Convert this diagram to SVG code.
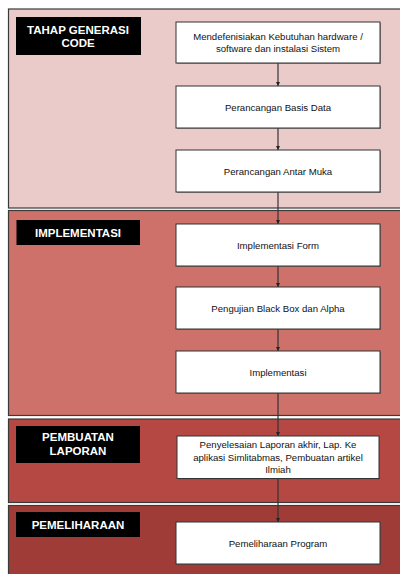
<svg xmlns="http://www.w3.org/2000/svg" width="400" height="574" viewBox="0 0 400 574">
<defs>
<style>
.panel{stroke:#3a3a3a;stroke-width:1.2}
.lab{fill:#000}
.labt{font-family:"Liberation Sans",Arial,sans-serif;font-weight:bold;font-size:11.5px;fill:#fff;text-anchor:middle}
.shadow{fill:#555;opacity:0.55}
.box{fill:#fff;stroke:#333;stroke-width:1}
.t{font-family:"Liberation Sans",Arial,sans-serif;font-size:9.6px;fill:#111;text-anchor:middle}
.con{stroke:#333;stroke-width:1.2;fill:none;marker-end:url(#ah)}
</style>
<marker id="ah" viewBox="0 0 6 6" refX="6" refY="3" markerWidth="4" markerHeight="4" markerUnits="userSpaceOnUse" orient="auto">
<path d="M0,0 L6,3 L0,6 Z" fill="#222"/>
</marker>
</defs>

<g id="panel-generasi">
<rect x="8.5" y="9" width="400" height="199" class="panel" fill="#ebcaca"/>
<rect x="16" y="17" width="125" height="38" class="lab"/>
<text class="labt" x="78" y="33.5">TAHAP GENERASI</text>
<text class="labt" x="78" y="47">CODE</text>
</g>
<g id="panel-implementasi">
<rect x="8.5" y="210.5" width="400" height="205" class="panel" fill="#cd716a"/>
<rect x="16.5" y="220" width="123.5" height="25" class="lab"/>
<text class="labt" x="78" y="236.5">IMPLEMENTASI</text>
</g>
<g id="panel-laporan">
<rect x="8.5" y="419" width="400" height="83.5" class="panel" fill="#b54843"/>
<rect x="16" y="426" width="124" height="37" class="lab"/>
<text class="labt" x="78" y="441">PEMBUATAN</text>
<text class="labt" x="78" y="454.5">LAPORAN</text>
</g>
<g id="panel-pemeliharaan">
<rect x="8.5" y="505.5" width="400" height="80" class="panel" fill="#a03c37"/>
<rect x="16" y="512" width="124" height="25" class="lab"/>
<text class="labt" x="78" y="528.5">PEMELIHARAAN</text>
</g>

<g id="connectors">
<line class="con" x1="278" y1="63" x2="278" y2="86"/>
<line class="con" x1="278" y1="128" x2="278" y2="150"/>
<line class="con" x1="278" y1="192" x2="278" y2="224"/>
<line class="con" x1="278" y1="266" x2="278" y2="287"/>
<line class="con" x1="278" y1="329" x2="278" y2="351"/>
<line class="con" x1="278" y1="393" x2="278" y2="436"/>
<line class="con" x1="278" y1="478.5" x2="278" y2="522"/>
</g>

<g id="n1">
<rect class="shadow" x="177" y="23" width="204" height="41"/>
<rect class="box" x="176" y="22" width="204" height="41"/>
<text class="t" x="278" y="39.5">Mendefenisiakan Kebutuhan hardware /</text>
<text class="t" x="278" y="52">software dan instalasi Sistem</text>
</g>
<g id="n2">
<rect class="shadow" x="177" y="87" width="204" height="42"/>
<rect class="box" x="176" y="86" width="204" height="42"/>
<text class="t" x="278" y="110.5">Perancangan Basis Data</text>
</g>
<g id="n3">
<rect class="shadow" x="177" y="151" width="204" height="42"/>
<rect class="box" x="176" y="150" width="204" height="42"/>
<text class="t" x="278" y="174.5">Perancangan Antar Muka</text>
</g>
<g id="n4">
<rect class="shadow" x="177" y="225" width="204" height="42"/>
<rect class="box" x="176" y="224" width="204" height="42"/>
<text class="t" x="278" y="248.5">Implementasi Form</text>
</g>
<g id="n5">
<rect class="shadow" x="177" y="288" width="204" height="42"/>
<rect class="box" x="176" y="287" width="204" height="42"/>
<text class="t" x="278" y="311.5">Pengujian Black Box dan Alpha</text>
</g>
<g id="n6">
<rect class="shadow" x="177" y="352" width="204" height="42"/>
<rect class="box" x="176" y="351" width="204" height="42"/>
<text class="t" x="278" y="375.5">Implementasi</text>
</g>
<g id="n7">
<rect class="shadow" x="178" y="437" width="202" height="42.5"/>
<rect class="box" x="177" y="436" width="202" height="42.5"/>
<text class="t" x="278" y="448">Penyelesaian Laporan akhir, Lap. Ke</text>
<text class="t" x="278" y="460.5">aplikasi Simlitabmas, Pembuatan artikel</text>
<text class="t" x="278" y="473">Ilmiah</text>
</g>
<g id="n8">
<rect class="shadow" x="177" y="523" width="204" height="42"/>
<rect class="box" x="176" y="522" width="204" height="42"/>
<text class="t" x="278" y="546.5">Pemeliharaan Program</text>
</g>
</svg>
